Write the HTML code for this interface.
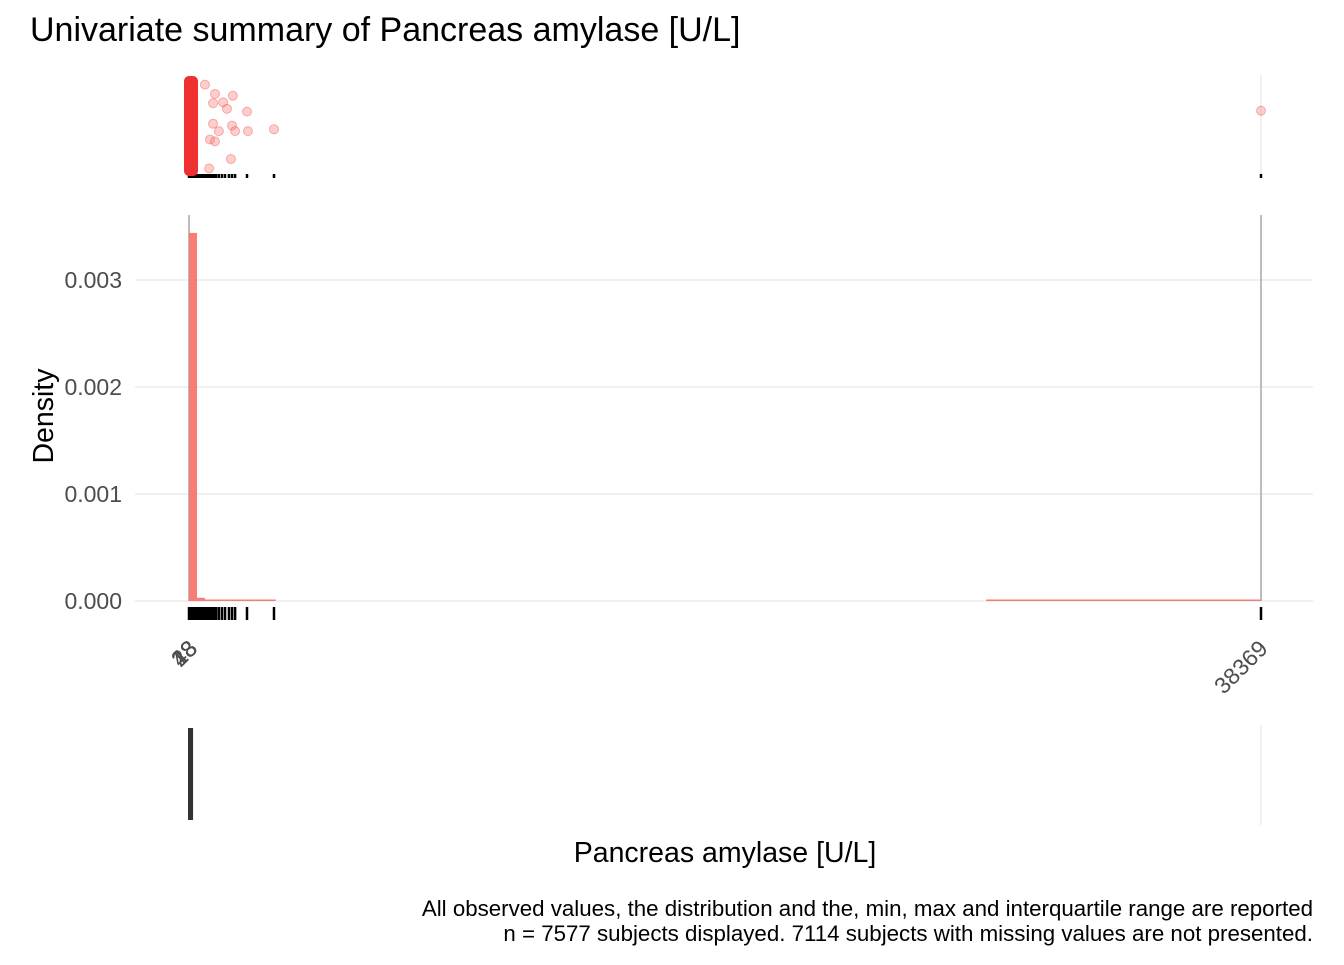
<!DOCTYPE html>
<html><head><meta charset="utf-8"><style>
body{margin:0;background:#fff;font-family:"Liberation Sans",Arial,sans-serif}
svg text{font-family:"Liberation Sans",Arial,sans-serif}
</style></head><body>
<svg id="chart" width="1344" height="960" xmlns="http://www.w3.org/2000/svg">
<text x="30" y="41" font-size="34" fill="#000">Univariate summary of Pancreas amylase [U/L]</text>
<g id="grid"></g>
<g id="topPanel"></g>
<g id="mainPanel"></g>
<g id="boxPanel"></g>
<text x="53" y="416" font-size="28.5" fill="#000" transform="rotate(-90 53 416)" text-anchor="middle">Density</text>
<text x="725" y="862" font-size="28.5" fill="#000" text-anchor="middle">Pancreas amylase [U/L]</text>
<text x="1313" y="916" font-size="22.3" fill="#000" text-anchor="end">All observed values, the distribution and the, min, max and interquartile range are reported</text>
<text x="1313" y="941" font-size="22.3" fill="#000" text-anchor="end">n = 7577 subjects displayed. 7114 subjects with missing values are not presented.</text>
</svg>
<script>
const yTicks=[0,0.001,0.002,0.003];
const yTickLabels=["0.000","0.001","0.002","0.003"];
const binStart=[0,286,572,1500,2000,2700,28530];
const binEnd=[286,572,1500,2000,2700,3100,38369];
const binDensity=[0.00344,0.00003,0.000008,0.000003,0.000008,0.000005,0.0000015];
const rugValues=[0,40,80,120,160,200,240,280,320,360,400,440,480,520,560,600,640,680,720,760,800,840,880,920,970,1070,1180,1290,1430,1540,1650,2076,3042,38369];
const outlierValues=[570,930,1570,860,1220,1360,2076,860,1540,1070,1650,2110,3042,750,930,1500,720,38369];
const outlierJitter=[0.05,0.15,0.17,0.25,0.24,0.31,0.34,0.47,0.49,0.55,0.55,0.55,0.53,0.64,0.66,0.85,0.95,0.33];
const xTickLabels=["3","18","28","48","38369"];
const xTickValues=[60,60,60,60,38369];
const boxMin=0,boxQ1=60,boxMed=85,boxQ3=110,boxMax=38369;

const svg=document.getElementById('chart');
const NS="http://www.w3.org/2000/svg";
const X0=189,X1=1261,VMAX=38369;
const xs=v=>X0+v/VMAX*(X1-X0);
const ys=d=>601-d/0.001*107;
const topY=j=>80+j*93;
function el(t,a,p){const e=document.createElementNS(NS,t);for(const k in a)e.setAttribute(k,a[k]);(p||svg).appendChild(e);return e;}
const gridG=document.getElementById('grid'),topG=document.getElementById('topPanel'),mainG=document.getElementById('mainPanel'),boxG=document.getElementById('boxPanel');
yTicks.forEach((t,i)=>{
  const l=el('line',{x1:135,x2:1313,y1:ys(t),y2:ys(t),stroke:'#ebebeb','stroke-width':1.5},gridG);
  
  
  const tx=el('text',{x:122,y:ys(t)+8,'font-size':23,fill:'#4d4d4d','text-anchor':'end'},gridG);
  tx.textContent=yTickLabels[i];
  
  
});
[[215,601],[75,177],[725,825]].forEach((r,k)=>{
  const l=el('line',{x1:xs(VMAX),x2:xs(VMAX),y1:r[0],y2:r[1],stroke:k==0?'#bdbdbd':'#ebebeb','stroke-width':k==0?2:1.5},gridG);
  
  
});
const ml=el('line',{x1:X0,x2:X0,y1:215,y2:601,stroke:'#bdbdbd','stroke-width':2},gridG);


binStart.forEach((s,i)=>{
  const y=ys(binDensity[i]);const h=Math.max(601-y,1.5);
  const r=el('rect',{x:xs(s),y:601-h,width:Math.max(xs(binEnd[i])-xs(s),1),height:h,fill:'#f8766d','fill-opacity':0.95},mainG);
  
  
});
rugValues.forEach(v=>{
  const a=el('line',{x1:xs(v),x2:xs(v),y1:607,y2:620,stroke:'#000','stroke-width':2.5},mainG);
  
  
  const b=el('line',{x1:xs(v),x2:xs(v),y1:174,y2:178,stroke:'#000','stroke-width':2.5},topG);
  
  
});
const blob=el('rect',{x:184,y:76,width:14,height:100,rx:5,fill:'#ee3030'},topG);


outlierValues.forEach((v,i)=>{
  const c=el('circle',{cx:xs(v),cy:topY(outlierJitter[i]),r:4.5,fill:'#f8766d','fill-opacity':0.35,stroke:'#ee3030','stroke-opacity':0.35},topG);
  
  
});
xTickLabels.forEach((t,i)=>{
  const x=xs(xTickValues[i]);
  const tx=el('text',{x:x+8,y:650,'font-size':23,fill:'#4d4d4d','text-anchor':'end',transform:`rotate(-45 ${x+8} 650)`});
  tx.textContent=t;
  
  
});
const bw=el('rect',{x:xs(boxMin)-1,y:728,width:Math.max(xs(boxQ3)-xs(boxMin)+2,4),height:92,fill:'#333'},boxG);


</script>
</body></html>
